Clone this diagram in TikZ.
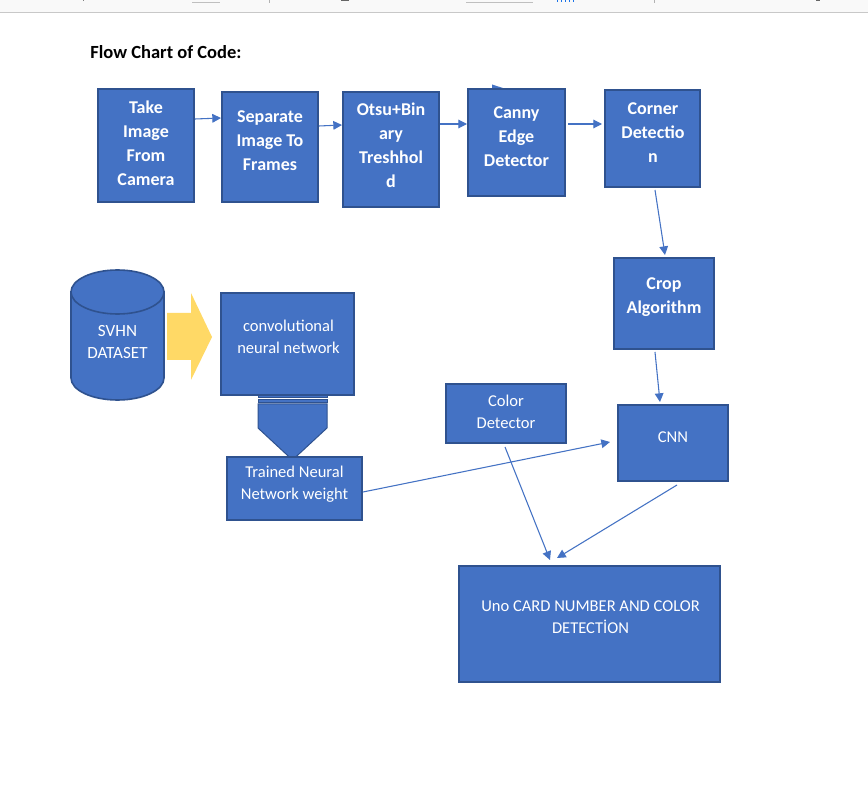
\documentclass[tikz,border=0pt]{standalone}
\usepackage{fontspec}
\setmainfont{Carlito}
\usetikzlibrary{arrows.meta,calc}
\definecolor{boxblue}{HTML}{4472C4}
\definecolor{boxedge}{HTML}{2F528F}
\definecolor{arrowgold}{HTML}{FFD966}
\definecolor{barfill}{HTML}{F9F9F9}
\definecolor{barline}{HTML}{C8C8C8}
\definecolor{tabblue}{HTML}{1A73E8}
\begin{document}
\begin{tikzpicture}[x=0.75pt,y=-0.75pt,
  box/.style={draw=boxedge, fill=boxblue, line width=1.5pt, inner sep=0pt},
  boldtxt/.style={text=white, font=\fontsize{13.5}{18}\selectfont\bfseries, align=center, inner sep=0pt},
  plaintxt/.style={text=white, font=\fontsize{12.4}{16.5}\selectfont, align=center, inner sep=0pt},
  conn/.style={draw=boxblue, line width=0.8pt, -{Triangle[length=6.5pt,width=6.5pt]}},
  shapeline/.style={draw=boxedge, fill=boxblue, line width=0.75pt}]
\useasboundingbox (0,0) rectangle (868,802);
\fill[white] (0,0) rectangle (868,802);

% window strip along the top edge
\fill[barfill] (0,0) rectangle (868,12);
\draw[barline, line width=0.75pt] (0,12.5) -- (868,12.5);
\draw[gray, line width=0.75pt] (83,0) -- (83,1.5);
\draw[gray!50, line width=0.75pt] (192,2.5) -- (220,2.5);
\draw[gray!60, line width=0.75pt] (269.5,0) -- (269.5,3);
\fill[gray!80!black] (341,0) rectangle (349,1.5);
\draw[gray!50, line width=0.75pt] (466,2.5) -- (533,2.5);
\foreach \bx in {557.5,561.5,565.5,569.5,573.5}
  \draw[tabblue, line width=0.9pt] (\bx,0) -- (\bx,2.5);
\draw[gray!60, line width=0.75pt] (654,0) -- (654,3);
\fill[gray!80!black] (816,0) rectangle (820,1.5);

% title
\node[anchor=west, font=\fontsize{13.9}{16}\selectfont\bfseries, inner sep=0pt] (title) at (90,52) {Flow Chart of Code:};

% striped block arrow below the network box
\path[shapeline] (258,395) rectangle (327,397.5);
\path[shapeline] (258,399.5) rectangle (327,402.5);
\path[shapeline] (258,404) -- (327,404) -- (327,428) -- (292.5,460) -- (258,428) -- cycle;

% dataset cylinder
\path[shapeline, line width=1.2pt] (71,292) -- (71,378)
  .. controls (71,390.15) and (91.82,400) .. (117.5,400)
  .. controls (143.18,400) and (164,390.15) .. (164,378)
  -- (164,292) -- cycle;
\path[shapeline, line width=1.2pt] (117.5,292) ellipse [x radius=46.5, y radius=22];
\node[plaintxt, font=\fontsize{12.8}{16.5}\selectfont] (svhn) at (117.5,342) {SVHN\\DATASET};

% wide yellow arrow
\fill[arrowgold] (167,313) -- (191,313) -- (191,293) -- (212,337) -- (191,380) -- (191,360) -- (167,360) -- cycle;

% arrow tip above the edge detector box
\fill[boxblue] (492,84.5) -- (506,89) -- (492,93) -- cycle;

% process boxes
\node[box, minimum width=72pt, minimum height=84.75pt] (take) at (146,145.5) {};
\node[box, minimum width=72pt, minimum height=82.5pt] (sep) at (270,147) {};
\node[box, minimum width=72pt, minimum height=86.25pt] (otsu) at (391,149.5) {};
\node[box, minimum width=72.75pt, minimum height=80.25pt] (canny) at (516.5,142.5) {};
\node[box, minimum width=71.25pt, minimum height=72.75pt] (corner) at (652.5,138.5) {};
\node[box, minimum width=75pt, minimum height=68.25pt] (crop) at (664,303.5) {};
\node[box, minimum width=82.5pt, minimum height=57pt] (cnn) at (673,443) {};
\node[box, minimum width=90pt, minimum height=44.25pt] (color) at (506,413.5) {};
\node[box, minimum width=99.75pt, minimum height=76.5pt] (conv) at (287.5,344) {};
\node[box, minimum width=101.25pt, minimum height=47.25pt] (trained) at (294.5,488.5) {};
\node[box, minimum width=195.75pt, minimum height=87pt] (uno) at (589.5,624) {};

% box texts
\node[boldtxt] (take-t) at (146,143) {Take\\Image\\From\\Camera};
\node[boldtxt] (sep-t) at (270,141) {Separate\\Image To\\Frames};
\node[boldtxt] (otsu-t) at (391,145.5) {Otsu+Bin\\ary\\Treshhol\\d};
\node[boldtxt] (canny-t) at (516.5,137) {Canny\\Edge\\Detector};
\node[boldtxt] (corner-t) at (653,132.5) {Corner\\Detectio\\n};
\node[boldtxt] (crop-t) at (664,297.5) {Crop\\Algorithm};
\node[plaintxt] (cnn-t) at (673,437) {CNN};
\node[plaintxt] (color-t) at (506,411.5) {Color\\Detector};
\node[plaintxt] (conv-t) at (288.5,337) {convolutional\\neural network};
\node[plaintxt] (trained-t) at (294.5,484) {Trained Neural\\Network weight};
\node[plaintxt] (uno-t) at (590.5,617) {Uno CARD NUMBER AND COLOR\\DETECTİON};

% connectors
\draw[conn] ($(take.north east)+(0,31)$) -- ($(sep.north west)+(0,27)$);
\draw[conn] ($(sep.north east)+(0,35)$) -- ($(otsu.north west)+(0,34)$);
\draw[conn] ($(otsu.north east)+(0,33)$) -- ($(canny.north west)+(0,36)$);
\draw[conn] ($(canny.north east)+(2,36)$) -- ($(corner.north west)+(-2,35)$);
\draw[conn] ($(corner.south)+(2.5,2)$) -- ($(crop.north)+(1,-2)$);
\draw[conn] ($(crop.south)+(-9,2)$) -- ($(cnn.north)+(-13,-2)$);
\draw[conn] ($(trained.east)+(0,3.5)$) -- ($(cnn.west)+(-7,-1)$);
\draw[conn] ($(color.south)+(-1,3)$) -- ($(uno.north)+(-39.5,-5)$);
\draw[conn] ($(cnn.south)+(4,3)$) -- ($(uno.north)+(-32.5,-7)$);
\end{tikzpicture}
\end{document}
